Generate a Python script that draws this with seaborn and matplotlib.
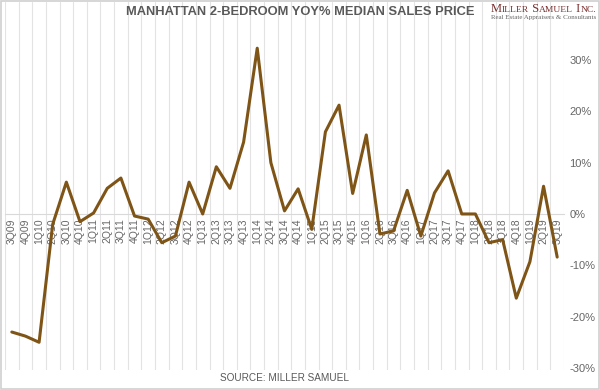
import numpy as np
import pandas as pd
import matplotlib
matplotlib.use("Agg")
import matplotlib.pyplot as plt
import seaborn as sns
from matplotlib.patches import Rectangle

# quarters 3Q09 .. 3Q19
quarters = ["3Q09", "4Q09",
            "1Q10", "2Q10", "3Q10", "4Q10",
            "1Q11", "2Q11", "3Q11", "4Q11",
            "1Q12", "2Q12", "3Q12", "4Q12",
            "1Q13", "2Q13", "3Q13", "4Q13",
            "1Q14", "2Q14", "3Q14", "4Q14",
            "1Q15", "2Q15", "3Q15", "4Q15",
            "1Q16", "2Q16", "3Q16", "4Q16",
            "1Q17", "2Q17", "3Q17", "4Q17",
            "1Q18", "2Q18", "3Q18", "4Q18",
            "1Q19", "2Q19", "3Q19"]

# YoY % change in median sales price
yoy = [-23.0, -23.8,
       -25.0, -2.0, 6.2, -1.5,
       0.2, 5.0, 7.0, -0.4,
       -1.0, -5.6, -4.3, 6.2,
       0.0, 9.2, 5.0, 14.0,
       32.3, 10.0, 0.6, 4.9,
       -3.0, 16.0, 21.2, 4.0,
       15.4, -3.9, -3.3, 4.6,
       -4.3, 4.1, 8.4, 0.0,
       0.0, -5.6, -5.0, -16.4,
       -9.3, 5.4, -8.4]

y_ticks = [-30, -20, -10, 0, 10, 20, 30]
y_tick_labels = [f"{v}%" for v in y_ticks]

df = pd.DataFrame({"pos": np.arange(len(quarters)), "yoy": yoy})

sns.set_style("white")
plt.rcParams["font.family"] = ["Liberation Sans", "DejaVu Sans"]

fig = plt.figure(figsize=(6, 3.9), dpi=100)
ax = fig.add_axes([5 / 600, 1 - 370 / 390, 559 / 600, 368 / 390])

# vertical gridlines between quarters
for b in np.arange(-0.5, len(quarters) + 0.5, 1):
    ax.axvline(b, color="#e3e3e3", lw=0.8, zorder=0)

sns.lineplot(data=df, x="pos", y="yoy", color="#7f5417", lw=2.2, ax=ax, zorder=3)

ax.set_xlim(-0.5, len(quarters) - 0.5)
ax.set_ylim(-30.4, 41.3)

# x axis sits on the zero line, labels hang below it
for s in ["top", "left", "right"]:
    ax.spines[s].set_visible(False)
ax.spines["bottom"].set_position(("data", 0))
ax.spines["bottom"].set_color("#d9d9d9")
ax.spines["bottom"].set_linewidth(0.8)
ax.set_xticks(df["pos"])
ax.set_xticklabels(quarters, rotation=90, fontsize=7.5, color="#666666")
ax.tick_params(axis="x", length=0, pad=3)

ax.yaxis.tick_right()
ax.set_yticks(y_ticks)
ax.set_yticklabels(y_tick_labels, fontsize=8, color="#666666")
ax.tick_params(axis="y", length=0, pad=4)
ax.set_xlabel("")
ax.set_ylabel("")

fig.text(300 / 600, 1 - 12 / 390, "MANHATTAN 2-BEDROOM YOY% MEDIAN SALES PRICE",
         ha="center", va="center", fontsize=9.3, fontweight="bold", color="#595959")

# logo in small caps, built piece by piece
pieces = [("M", 9), ("ILLER", 6.8), (" S", 9), ("AMUEL", 6.8), (" I", 9), ("NC.", 6.8)]
renderer = fig.canvas.get_renderer()
x = 491 / 600
base = 1 - 11.5 / 390
for txt, sz in pieces:
    t = fig.text(x, base, txt, fontsize=sz, family="Liberation Serif",
                 color="#7a2e2e", va="baseline", ha="left")
    bb = t.get_window_extent(renderer).transformed(fig.transFigure.inverted())
    x = bb.x1
fig.text(491 / 600, 1 - 19 / 390, "Real Estate Appraisers & Consultants",
         fontsize=5.0, family="Liberation Serif", color="#666666", va="baseline")

fig.text(285 / 600, 1 - 378 / 390, "SOURCE: MILLER SAMUEL",
         ha="center", va="center", fontsize=7.2, color="#595959")

fig.patches.append(Rectangle((0.001, 0.002), 0.997, 0.996, transform=fig.transFigure,
                             fill=False, edgecolor="#d0d0d0", lw=1.2))

fig.savefig("out.png", dpi=100)
